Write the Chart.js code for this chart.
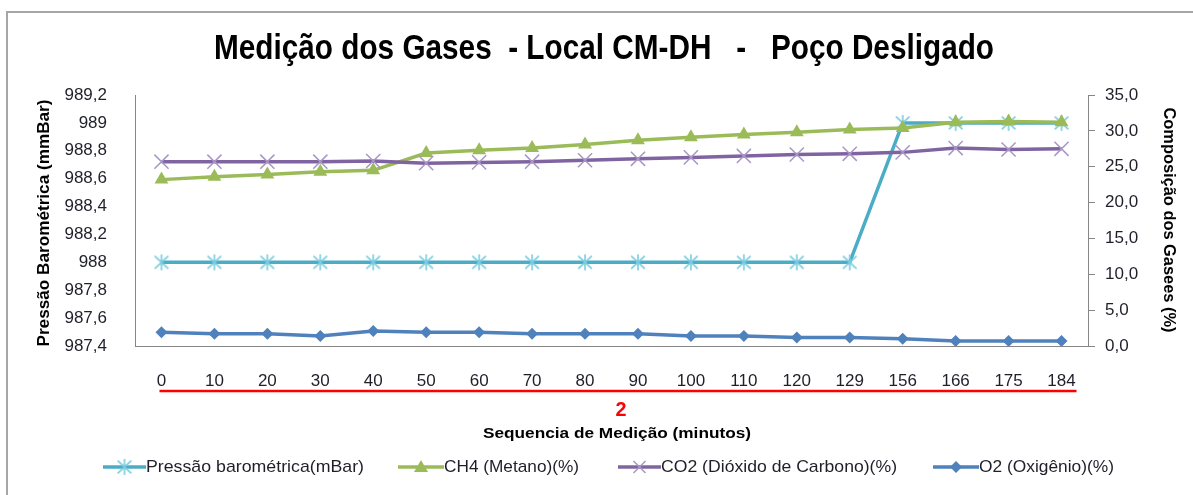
<!DOCTYPE html>
<html>
<head>
<meta charset="utf-8">
<script src="https://cdn.jsdelivr.net/npm/chart.js@4.4.1/dist/chart.umd.min.js"></script>
<style>
  html, body { margin: 0; padding: 0; background: #fff; }
  #wrap { position: relative; width: 1193px; height: 495px; }
</style>
</head>
<body>
<div id="wrap"><canvas id="c" width="1193" height="495"></canvas></div>
<script>
// Measurement sequence (minutes)
const categories = ['0','10','20','30','40','50','60','70','80','90','100','110','120','129','156','166','175','184'];

// Barometric pressure (mBar) – left axis
const pressao = [988, 988, 988, 988, 988, 988, 988, 988, 988, 988, 988, 988, 988, 988, 989, 989, 989, 989];
// Gas composition (%) – right axis
const ch4 = [23.2, 23.6, 23.9, 24.3, 24.5, 26.9, 27.3, 27.6, 28.1, 28.7, 29.1, 29.5, 29.8, 30.2, 30.4, 31.2, 31.3, 31.2];
const co2 = [25.7, 25.7, 25.7, 25.7, 25.8, 25.5, 25.6, 25.7, 25.9, 26.1, 26.3, 26.5, 26.7, 26.8, 27.0, 27.6, 27.4, 27.5];
const o2  = [1.9, 1.7, 1.7, 1.4, 2.1, 1.9, 1.9, 1.7, 1.7, 1.7, 1.4, 1.4, 1.2, 1.2, 1.0, 0.7, 0.7, 0.7];

const seriesNames = ['Pressão barométrica(mBar)', 'CH4 (Metano)(%)', 'CO2 (Dióxido de Carbono)(%)', 'O2 (Oxigênio)(%)'];

const COL = {
  pres: '#4BACC6', presMk: '#7ACCE0',
  ch4: '#9BBB59',
  co2: '#8064A2', co2Mk: '#A897C6',
  o2: '#4F81BD',
  axis: '#868686', text: '#1F1F2A'
};

// asterisk marker (X with vertical bar)
function asteriskImage(size, color) {
  const cv = document.createElement('canvas');
  cv.width = size; cv.height = size;
  const g = cv.getContext('2d');
  g.strokeStyle = color; g.lineWidth = 1.6;
  const m = size / 2, r = size / 2 - 1;
  g.beginPath();
  g.moveTo(m - r * 0.85, m - r * 0.8); g.lineTo(m + r * 0.85, m + r * 0.8);
  g.moveTo(m + r * 0.85, m - r * 0.8); g.lineTo(m - r * 0.85, m + r * 0.8);
  g.moveTo(m, m - r); g.lineTo(m, m + r);
  g.stroke();
  return cv;
}
const asterisk = asteriskImage(18, COL.presMk);

function fmtLeft(v) {
  const s = (Math.round(v * 10) / 10).toFixed(1);
  return (s.endsWith('.0') ? s.slice(0, -2) : s).replace('.', ',');
}
function fmtRight(v) { return v.toFixed(1).replace('.', ','); }

// text squeezed/stretched horizontally to a given width
function fitText(ctx, txt, cx, cy, width, font, color, rot) {
  ctx.save();
  ctx.font = font;
  ctx.fillStyle = color;
  ctx.textAlign = 'center';
  ctx.textBaseline = 'middle';
  const w = ctx.measureText(txt).width;
  ctx.translate(cx, cy);
  if (rot) ctx.rotate(rot);
  ctx.scale(width / w, 1);
  ctx.fillText(txt, 0, 0);
  ctx.restore();
}

function drawMarker(ctx, kind, x, y) {
  ctx.save();
  if (kind === 0) {
    ctx.drawImage(asterisk, x - 9, y - 9);
  } else if (kind === 1) {
    ctx.fillStyle = COL.ch4;
    ctx.beginPath();
    ctx.moveTo(x, y - 7); ctx.lineTo(x + 7, y + 5); ctx.lineTo(x - 7, y + 5); ctx.closePath();
    ctx.fill();
  } else if (kind === 2) {
    ctx.strokeStyle = COL.co2Mk; ctx.lineWidth = 1.5;
    ctx.beginPath();
    ctx.moveTo(x - 6, y - 6); ctx.lineTo(x + 6, y + 6);
    ctx.moveTo(x + 6, y - 6); ctx.lineTo(x - 6, y + 6);
    ctx.stroke();
  } else {
    ctx.fillStyle = COL.o2;
    ctx.beginPath();
    ctx.moveTo(x, y - 6); ctx.lineTo(x + 6, y); ctx.lineTo(x, y + 6); ctx.lineTo(x - 6, y); ctx.closePath();
    ctx.fill();
  }
  ctx.restore();
}

const decorations = {
  id: 'decorations',
  afterDraw(chart) {
    const ctx = chart.ctx;
    const xs = chart.scales.x;

    // outer frame
    ctx.save();
    ctx.strokeStyle = '#A6A6A6';
    ctx.lineWidth = 2;
    ctx.strokeRect(7, 12, 1200, 600);
    ctx.restore();

    // title
    fitText(ctx, 'Medição dos Gases  - Local CM-DH   -   Poço Desligado', 604, 49, 780,
      'bold 35px "Liberation Sans", Arial, sans-serif', '#000', 0);

    // axis titles
    fitText(ctx, 'Pressão Barométrica (mmBar)', 45, 223, 247,
      'bold 16px "Liberation Sans", Arial, sans-serif', '#000', -Math.PI / 2);
    fitText(ctx, 'Composição dos Gasees (%)', 1168, 220, 225,
      'bold 16px "Liberation Sans", Arial, sans-serif', '#000', Math.PI / 2);

    // red underline of the measurement sequence + group number
    const x0 = xs.getPixelForValue(0) - 2;
    const x1 = xs.getPixelForValue(categories.length - 1) + 15;
    ctx.save();
    ctx.strokeStyle = '#FF0000';
    ctx.lineWidth = 2.5;
    ctx.beginPath(); ctx.moveTo(x0, 391); ctx.lineTo(x1, 391); ctx.stroke();
    ctx.restore();
    fitText(ctx, '2', 621, 410, 11, 'bold 20px "Liberation Sans", Arial, sans-serif', '#FF0000', 0);
    fitText(ctx, 'Sequencia de Medição (minutos)', 617, 434, 268,
      'bold 15px "Liberation Sans", Arial, sans-serif', '#000', 0);

    // legend
    const items = [
      { l0: 103, l1: 146, t: 255, w: 218, c: COL.pres },
      { l0: 398, l1: 444, t: 511.5, w: 135, c: COL.ch4 },
      { l0: 618, l1: 661, t: 779, w: 236, c: COL.co2 },
      { l0: 933, l1: 979, t: 1046.5, w: 135, c: COL.o2 }
    ];
    const ly = 467;
    items.forEach((it, i) => {
      ctx.save();
      ctx.strokeStyle = it.c; ctx.lineWidth = 3.5;
      ctx.beginPath(); ctx.moveTo(it.l0, ly); ctx.lineTo(it.l1, ly); ctx.stroke();
      ctx.restore();
      drawMarker(ctx, i, (it.l0 + it.l1) / 2, ly);
      fitText(ctx, seriesNames[i], it.t, ly, it.w, '17px "Liberation Sans", Arial, sans-serif', COL.text, 0);
    });
  }
};

const tickFont = { family: '"Liberation Sans", Arial, sans-serif', size: 17 };

new Chart(document.getElementById('c'), {
  type: 'line',
  data: {
    labels: categories,
    datasets: [
      {
        label: seriesNames[0], data: pressao, yAxisID: 'yL', order: 4,
        borderColor: COL.pres, borderWidth: 3.5, tension: 0,
        pointStyle: asterisk, pointRadius: 9, pointHoverRadius: 9
      },
      {
        label: seriesNames[1], data: ch4, yAxisID: 'yR', order: 3,
        borderColor: COL.ch4, backgroundColor: COL.ch4, borderWidth: 3.5, tension: 0,
        pointStyle: 'triangle', pointRadius: 8, pointBorderWidth: 0, pointBackgroundColor: COL.ch4
      },
      {
        label: seriesNames[2], data: co2, yAxisID: 'yR', order: 2,
        borderColor: COL.co2, borderWidth: 3.5, tension: 0,
        pointStyle: 'crossRot', pointRadius: 10, pointBorderColor: COL.co2Mk, pointBorderWidth: 1.5
      },
      {
        label: seriesNames[3], data: o2, yAxisID: 'yR', order: 1,
        borderColor: COL.o2, backgroundColor: COL.o2, borderWidth: 3.5, tension: 0,
        pointStyle: 'rectRot', pointRadius: 6, pointBorderWidth: 0, pointBackgroundColor: COL.o2
      }
    ]
  },
  options: {
    responsive: false,
    animation: false,
    events: [],
    layout: { padding: { top: 95, bottom: 0, left: 0, right: 0 } },
    plugins: { legend: { display: false }, title: { display: false }, tooltip: { enabled: false } },
    scales: {
      x: {
        offset: true,
        grid: { display: false },
        border: { display: true, color: COL.axis, width: 1 },
        ticks: { autoSkip: false, maxRotation: 0, minRotation: 0, padding: 17, color: COL.text, font: tickFont },
        afterFit(s) { s.height = 149; }
      },
      yL: {
        position: 'left', min: 987.4, max: 989.2,
        grid: { display: false },
        border: { display: true, color: COL.axis, width: 1 },
        ticks: { stepSize: 0.2, padding: 20, color: COL.text, font: tickFont, callback: v => fmtLeft(v) },
        afterFit(s) { s.width = 135; }
      },
      yR: {
        position: 'right', min: 0, max: 35,
        grid: { display: true, drawOnChartArea: false, drawTicks: true, tickLength: 7, color: COL.axis },
        border: { display: true, color: COL.axis, width: 1 },
        ticks: { stepSize: 5, padding: 10, color: COL.text, font: tickFont, callback: v => fmtRight(v) },
        afterFit(s) { s.width = 105; }
      }
    }
  },
  plugins: [decorations]
});
</script>
</body>
</html>
